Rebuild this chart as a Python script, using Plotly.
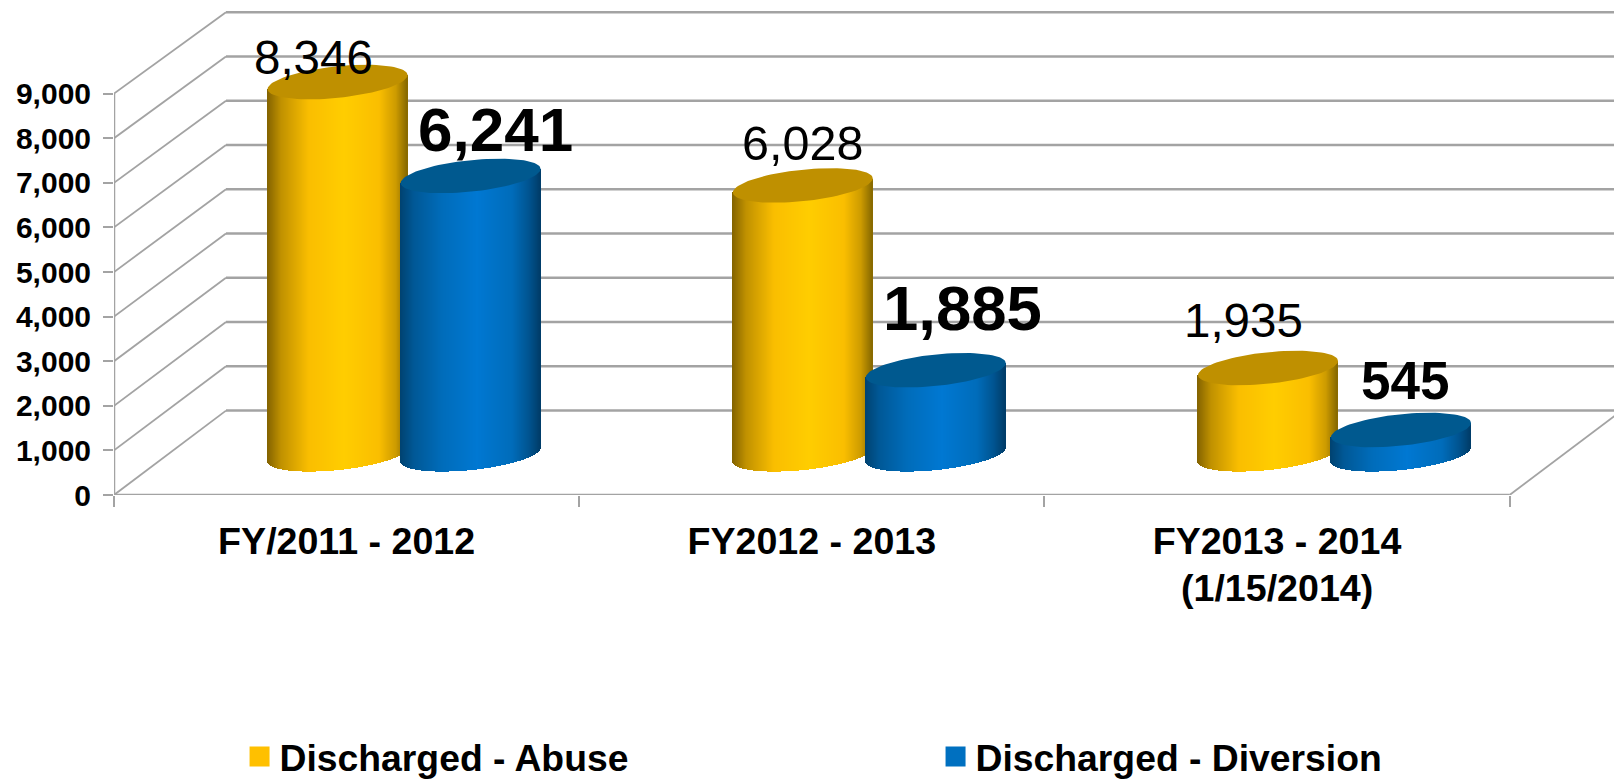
import numpy as np
import plotly.graph_objects as go

# Chart data
categories = ["FY/2011 - 2012", "FY2012 - 2013", "FY2013 - 2014"]
category_note = "(1/15/2014)"
abuse = [8346, 6028, 1935]
diversion = [6241, 1885, 545]
y_ticks = [0, 1000, 2000, 3000, 4000, 5000, 6000, 7000, 8000, 9000]
series_names = ["Discharged - Abuse", "Discharged - Diversion"]

# Page geometry of the plotting area
WIDTH, HEIGHT = 1614, 780
LEFT, FLOOR_PX = 114, 495
PX_PER_CAT = 465.2
PX_PER_UNIT = 44.6 / 1000
X_MIN = -0.5
X_MAX = X_MIN + (WIDTH - LEFT) / PX_PER_CAT
Y_MAX = FLOOR_PX / PX_PER_UNIT

# Oblique projection: how far the back wall sits from the front plane
DEPTH_X = 112.0 / PX_PER_CAT
DEPTH_Y = 84.4 / PX_PER_UNIT
BACK_SCALE = 0.9925

# Cylinder shape and placement on the floor
HALF_W = 70.0 / PX_PER_CAT
SPACING = 133.0 / PX_PER_CAT
TILT = 7.0 / PX_PER_UNIT
MINOR = 15.8 / PX_PER_UNIT
SLICES = 140
CENTER_X = DEPTH_X / 2 + 1.5 / PX_PER_CAT
CENTER_Y = DEPTH_Y / 2 - 1.5 / PX_PER_UNIT

GRID = "#A3A3A3"
FONT = "Liberation Sans, Arial, sans-serif"

# Side shading stops: position across the cylinder, red, green, blue
STOPS = [0.0, 0.10, 0.30, 0.55, 0.80, 0.92, 1.0]
GOLD_SHADE = [(130, 98, 0), (192, 145, 0), (250, 190, 0), (255, 205, 0),
              (250, 190, 0), (205, 155, 0), (135, 105, 0)]
BLUE_SHADE = [(0, 66, 112), (0, 88, 150), (0, 108, 186), (0, 120, 210),
              (0, 108, 186), (0, 84, 144), (0, 60, 104)]
GOLD_TOP = "#BF9000"
BLUE_TOP = "#00598F"
GOLD_KEY = "#FFC000"
BLUE_KEY = "#0070C0"


def shade(stops, t):
    channels = [np.interp(t, STOPS, [c[i] for c in stops]) for i in range(3)]
    return "rgb(%d,%d,%d)" % tuple(round(c) for c in channels)


def side_slices(values, shift, stops):
    """Thin bars that together form the shaded walls of one series' cylinders."""
    xs, bases, heights, colors = [], [], [], []
    step = 2 * HALF_W / SLICES
    for cat, value in enumerate(values):
        cx = cat + CENTER_X + shift
        for i in range(SLICES):
            u = -1 + 2 * (i + 0.5) / SLICES
            bottom = CENTER_Y + TILT * u - MINOR * np.sqrt(1 - u * u)
            top = CENTER_Y + value + TILT * u
            xs.append(cx + u * HALF_W)
            bases.append(bottom)
            heights.append(top - bottom)
            colors.append(shade(stops, (u + 1) / 2))
    return xs, bases, heights, colors, step * 1.7


def top_caps(values, shift):
    """Outline of the tilted ellipses that close the cylinders."""
    xs, ys = [], []
    angles = np.linspace(0, 2 * np.pi, 90)
    for cat, value in enumerate(values):
        cx = cat + CENTER_X + shift
        cy = CENTER_Y + value
        xs += list(cx + HALF_W * np.cos(angles)) + [None]
        ys += list(cy + TILT * np.cos(angles) + MINOR * np.sin(angles)) + [None]
    return xs, ys


fig = go.Figure()

# Walls of the cylinders; the second series is painted over the first
for values, shift, stops in ((abuse, -SPACING / 2, GOLD_SHADE), (diversion, SPACING / 2, BLUE_SHADE)):
    xs, bases, heights, colors, bar_w = side_slices(values, shift, stops)
    fig.add_trace(go.Bar(x=xs, y=heights, base=bases, width=bar_w,
                         marker=dict(color=colors, line=dict(width=0)),
                         showlegend=False, hoverinfo="skip"))

# Cylinder caps
for values, shift, color in ((abuse, -SPACING / 2, GOLD_TOP), (diversion, SPACING / 2, BLUE_TOP)):
    xs, ys = top_caps(values, shift)
    fig.add_trace(go.Scatter(x=xs, y=ys, mode="lines", fill="toself", fillcolor=color,
                             line=dict(width=0, color=color), showlegend=False, hoverinfo="skip"))

# Front axis lines
fig.add_trace(go.Scatter(x=[X_MIN, X_MIN, 2.5], y=[y_ticks[-1], 0, 0], mode="lines",
                         line=dict(color=GRID, width=2.5), cliponaxis=False,
                         showlegend=False, hoverinfo="skip"))

# Legend keys
for name, color in zip(series_names, (GOLD_KEY, BLUE_KEY)):
    fig.add_trace(go.Scatter(x=[None], y=[None], mode="markers", name=name,
                             marker=dict(symbol="square", size=16, color=color,
                                         line=dict(width=4, color=color))))

# Back wall and side wall rules sit underneath the cylinders
shapes = []
for v in y_ticks:
    back = v * BACK_SCALE + DEPTH_Y
    shapes.append(dict(type="line", xref="x", yref="y", layer="below",
                       x0=X_MIN + DEPTH_X, x1=X_MAX + 1, y0=back, y1=back,
                       line=dict(color=GRID, width=2.5)))
    shapes.append(dict(type="line", xref="x", yref="y", layer="below",
                       x0=X_MIN, x1=X_MIN + DEPTH_X, y0=v, y1=back,
                       line=dict(color=GRID, width=1.8)))
shapes.append(dict(type="line", xref="x", yref="y", layer="below",
                   x0=2.5, x1=2.5 + DEPTH_X, y0=0, y1=DEPTH_Y,
                   line=dict(color=GRID, width=1.8)))

# Value labels, each with its own size and offset from the cylinder top
annotations = []
label_sets = (
    (abuse, -SPACING / 2, [47.5, 48.5, 47.5], False, [(-24, 25), (0, 42), (-25, 48)]),
    (diversion, SPACING / 2, [62, 63.5, 53], True, [(25, 46), (27, 62), (4, 49)]),
)
for values, shift, sizes, bold, nudges in label_sets:
    for cat, value in enumerate(values):
        dx, dy = nudges[cat]
        annotations.append(dict(x=cat + CENTER_X + shift, y=CENTER_Y + value,
                                xref="x", yref="y", text=f"{value:,}", showarrow=False,
                                xshift=dx, yshift=dy, xanchor="center", yanchor="middle",
                                font=dict(family=FONT, size=sizes[cat], color="black",
                                          weight="bold" if bold else "normal")))

# Second line under the last category
annotations.append(dict(x=2, y=(FLOOR_PX - 588) / FLOOR_PX, xref="x", yref="paper",
                        text=category_note, showarrow=False, xanchor="center", yanchor="middle",
                        font=dict(family=FONT, size=37.6, color="black", weight="bold")))

fig.update_layout(
    width=WIDTH, height=HEIGHT, autosize=False,
    margin=dict(l=LEFT, r=0, t=0, b=HEIGHT - FLOOR_PX, pad=0, autoexpand=False),
    paper_bgcolor="white", plot_bgcolor="white",
    barmode="overlay", bargap=0,
    font=dict(family=FONT, color="black"),
    hovermode=False,
    shapes=shapes, annotations=annotations,
    legend=dict(orientation="h", x=0.0837, y=-0.529, xanchor="left", yanchor="middle",
                entrywidth=651, entrywidthmode="pixels", itemsizing="trace",
                bgcolor="rgba(0,0,0,0)",
                font=dict(family=FONT, size=37.3, color="black", weight="bold")),
    xaxis=dict(range=[X_MIN, X_MAX], showgrid=False, zeroline=False, showline=False,
               tickmode="array", tickvals=[0, 1, 2], ticktext=categories,
               ticks="outside", ticklen=0, ticklabelstandoff=13,
               tickfont=dict(family=FONT, size=37.6, color="black", weight="bold"),
               minor=dict(tickmode="array", tickvals=[-0.5, 0.5, 1.5, 2.5], ticks="outside",
                          ticklen=11, tickwidth=2, tickcolor=GRID, showgrid=False)),
    yaxis=dict(range=[0, Y_MAX], showgrid=False, zeroline=False, showline=False,
               tickmode="array", tickvals=y_ticks, tickformat=",d",
               ticks="outside", ticklen=10, tickwidth=2, tickcolor=GRID, ticklabelstandoff=6,
               tickfont=dict(family=FONT, size=30, color="black", weight="bold")),
)

fig.write_html("out.html")
